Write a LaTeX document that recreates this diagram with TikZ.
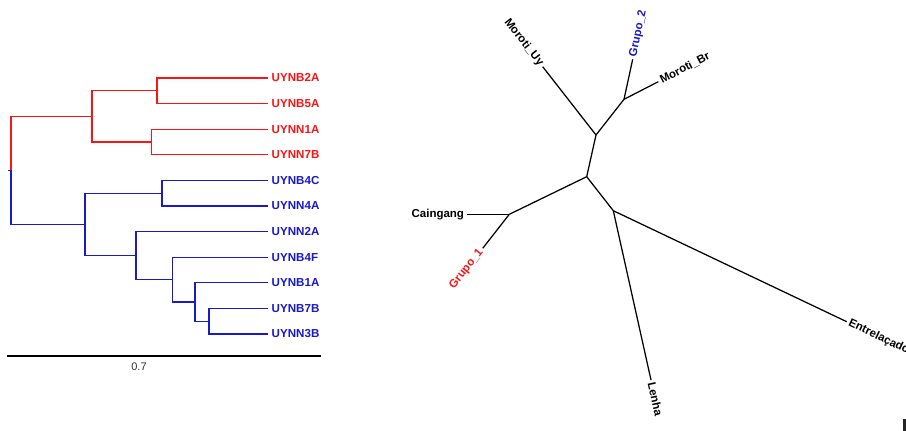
\documentclass[tikz,border=0pt]{standalone}
\usepackage{fontspec}
\setmainfont{Liberation Sans}
\definecolor{tred}{RGB}{250,20,20}
\definecolor{tblue}{RGB}{25,25,205}
\begin{document}
\begin{tikzpicture}[x=1pt,y=-1pt,
  br/.style={line width=1.25pt},
  leaflab/.style={font=\fontsize{11.6}{13}\selectfont\bfseries, inner sep=3.5pt},
  tiplab/.style={font=\fontsize{11.5}{13}\selectfont\bfseries, inner sep=2.5pt}]
\useasboundingbox[fill=white] (0,0) rectangle (906,431);
% ---------- left dendrogram ----------
\foreach \n/\y in {1/78,2/103.6,3/129.2,4/154.8,5/180.4,6/206,7/231.6,8/257.2,9/282.8,10/308.4,11/334}
  \coordinate (L\n) at (268,\y);
\coordinate (na) at (157,90.8);
\coordinate (nb) at (151.7,142);
\coordinate (nr) at (92,116.4);
\coordinate (nd) at (162,193.2);
\coordinate (nf) at (209,321.2);
\coordinate (ne) at (195,302);
\coordinate (ndd) at (172.3,279.6);
\coordinate (nc) at (136,255.6);
\coordinate (nbb) at (85,224.4);
\coordinate (root) at (11,170.4);
\coordinate (rootstub) at (8,170.4);
\begin{scope}[br, tred]
  \draw (na) |- (L1); \draw (na) |- (L2);
  \draw (nb) |- (L3); \draw (nb) |- (L4);
  \draw (nr) |- (na); \draw (nr) |- (nb);
  \draw (root) |- (nr);
\end{scope}
\begin{scope}[br, tblue]
  \draw (nd) |- (L5); \draw (nd) |- (L6);
  \draw (nf) |- (L10); \draw (nf) |- (L11);
  \draw (ne) |- (L9); \draw (ne) |- (nf);
  \draw (ndd) |- (L8); \draw (ndd) |- (ne);
  \draw (nc) |- (L7); \draw (nc) |- (ndd);
  \draw (nbb) |- (nd); \draw (nbb) |- (nc);
  \draw (root) |- (nbb);
\end{scope}
\draw[br, black!80] (rootstub) -- (root);
\foreach \n/\t in {1/UYNB2A,2/UYNB5A,3/UYNN1A,4/UYNN7B}
  \node[leaflab, tred, anchor=west] (t\n) at (L\n) {\t};
\foreach \n/\t in {5/UYNB4C,6/UYNN4A,7/UYNN2A,8/UYNB4F,9/UYNB1A,10/UYNB7B,11/UYNN3B}
  \node[leaflab, tblue, anchor=west] (t\n) at (L\n) {\t};
% scale bar
\coordinate (sb1) at (7,356);
\coordinate (sb2) at (321,356);
\draw[line width=1.3pt] (sb1) -- (sb2);
\node[font=\fontsize{11}{13}\selectfont, text=black!80] (sbl) at (139,366.5) {0.7};
% ---------- right unrooted tree ----------
\coordinate (P) at (596,135);
\coordinate (Q) at (624,99.3);
\coordinate (R) at (586.7,176.7);
\coordinate (S) at (509.3,214.3);
\coordinate (T) at (613.3,210.7);
\coordinate (tUy) at (542.7,66.7);
\coordinate (tG2) at (632.7,59.3);
\coordinate (tBr) at (658.3,81.7);
\coordinate (tCa) at (466.7,214.3);
\coordinate (tG1) at (482.7,248.3);
\coordinate (tLe) at (651,380);
\coordinate (tEn) at (846.7,321.7);
\begin{scope}[br, black]
  \draw (R) -- (P); \draw (P) -- (tUy); \draw (P) -- (Q);
  \draw (Q) -- (tG2); \draw (Q) -- (tBr);
  \draw (R) -- (S); \draw (S) -- (tCa); \draw (S) -- (tG1);
  \draw (R) -- (T); \draw (T) -- (tLe); \draw (T) -- (tEn);
\end{scope}
\node[tiplab, anchor=east, rotate=-52] (lUy) at (tUy) {Moroti\_Uy};
\node[tiplab, anchor=west, rotate=78, text=tblue] (lG2) at (tG2) {Grupo\_2};
\node[tiplab, anchor=west, rotate=27] (lBr) at (tBr) {Moroti\_Br};
\node[tiplab, anchor=east] (lCa) at (tCa) {Caingang};
\node[tiplab, anchor=east, rotate=52, text=tred] (lG1) at (tG1) {Grupo\_1};
\node[tiplab, anchor=west, rotate=-77.4] (lLe) at (tLe) {Lenha};
\node[tiplab, anchor=west, rotate=-25.4] (lEn) at (tEn) {Entrelaçado};
% corner mark
\fill[black!85] (903,419) rectangle (906,431);
\end{tikzpicture}
\end{document}
